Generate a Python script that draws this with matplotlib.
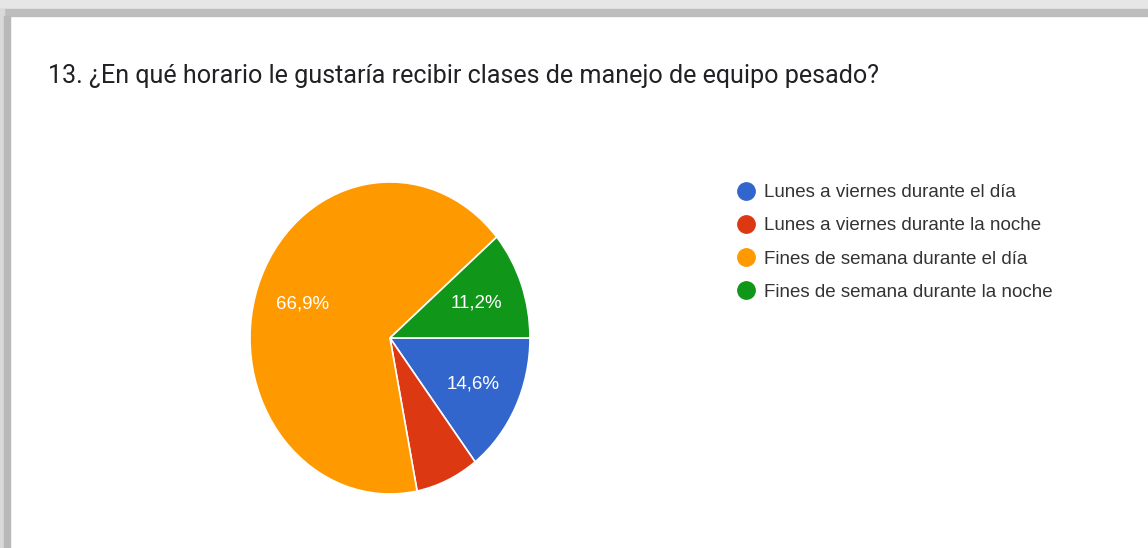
import matplotlib
matplotlib.use("Agg")
import matplotlib.pyplot as plt
from matplotlib.patches import Rectangle
from matplotlib.lines import Line2D

# data
title = "13. ¿En qué horario le gustaría recibir clases de manejo de equipo pesado?"
categories = ["Lunes a viernes durante el día",
              "Lunes a viernes durante la noche",
              "Fines de semana durante el día",
              "Fines de semana durante la noche"]
values = [14.6, 7.3, 66.9, 11.2]
colors = ["#3366cc", "#dc3912", "#ff9900", "#109618"]

W, H = 1148, 548
fig = plt.figure(figsize=(W / 100, H / 100), dpi=100)
fig.patch.set_facecolor("white")

# screenshot frame (grey shadow top and left)
fig.patches.append(Rectangle((0, 1 - 9 / H), 1, 9 / H, transform=fig.transFigure,
                             color="#e6e6e6", zorder=0))
fig.patches.append(Rectangle((0, 1 - 16 / H), 1, 7 / H, transform=fig.transFigure,
                             color="#bdbdbd", zorder=0))
fig.patches.append(Rectangle((0, 0), 4 / W, 1 - 9 / H, transform=fig.transFigure,
                             color="#d9d9d9", zorder=0))
fig.patches.append(Rectangle((4 / W, 0), 6 / W, 1 - 16 / H, transform=fig.transFigure,
                             color="#b8b8b8", zorder=0))

fig.text(48 / W, 1 - 83 / H, title, fontsize=18.1, family="Roboto", color="#202124",
         va="baseline", ha="left")


def fmt(pct):
    if pct < 10:
        return ""
    return f"{pct:.1f}".replace(".", ",") + "%"


# pie (slightly taller than wide, as in the screenshot)
ax = fig.add_axes([250 / W, 1 - 494 / H, 280 / W, 312 / H])
wedges, texts, autotexts = ax.pie(values, colors=colors, startangle=0, counterclock=False,
                                  autopct=fmt, pctdistance=0.66, radius=1,
                                  wedgeprops=dict(edgecolor="white", linewidth=1.2))
for t in autotexts:
    t.set_color("white")
    t.set_fontsize(13.5)
    t.set_family("Liberation Sans")
ax.set_aspect("auto")
ax.set_xlim(-1, 1)
ax.set_ylim(-1, 1)
ax.axis("off")

handles = [Line2D([], [], linestyle="none", marker="o", markersize=12.5, color=c) for c in colors]
leg = fig.legend(handles, categories, loc="upper left", bbox_to_anchor=(737 / W, 1 - 184 / H),
                 frameon=False, prop={"family": "Liberation Sans", "size": 13.5},
                 handlelength=1.0, handletextpad=0.46, labelspacing=0.86,
                 borderpad=0, borderaxespad=0)
for t in leg.get_texts():
    t.set_color("#333333")

fig.savefig("out.png", dpi=100)
